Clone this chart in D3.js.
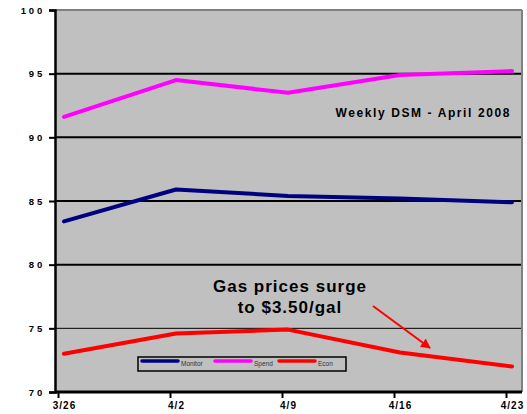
<!DOCTYPE html>
<html>
<head>
<meta charset="utf-8">
<script src="https://cdn.jsdelivr.net/npm/d3@7"></script>
<style>
  body { margin: 0; background: #fff; }
  svg { display: block; font-family: Arial, "Liberation Sans", sans-serif; }
</style>
</head>
<body>
<svg width="527" height="414"></svg>
<script>
// data
const weeks = ["3/26", "4/2", "4/9", "4/16", "4/23"];
const monitor = [83.4, 85.9, 85.4, 85.2, 84.9];
const spend = [91.6, 94.5, 93.5, 94.9, 95.2];
const econ = [73.0, 74.6, 74.9, 73.1, 72.0];
const yTicks = [70, 75, 80, 85, 90, 95, 100];
const seriesNames = ["Monitor", "Spend", "Econ"];
const seriesColors = ["#000080", "#ff00ff", "#ff0000"];

const svg = d3.select("svg");
const plotL = 55, plotR = 522, plotT = 10, plotB = 392;

const x = d3.scalePoint().domain(weeks).range([64, 512]);
const y = d3.scaleLinear().domain([70, 100]).range([plotB, plotT]);

// plot background
svg.append("rect")
  .attr("x", plotL).attr("y", plotT)
  .attr("width", plotR - plotL).attr("height", plotB - plotT)
  .attr("fill", "#c0c0c0");

// gridlines
svg.selectAll("line.grid")
  .data(yTicks.filter(d => d > 70 && d < 100))
  .enter().append("line")
  .attr("class", "grid")
  .attr("x1", plotL).attr("x2", plotR)
  .attr("y1", d => y(d)).attr("y2", d => y(d))
  .attr("stroke", "#000")
  .attr("stroke-width", d => d === 75 ? 1 : 2);

// top / right border
svg.append("line").attr("x1", plotL).attr("x2", plotR).attr("y1", plotT).attr("y2", plotT)
  .attr("stroke", "#808080").attr("stroke-width", 2);
svg.append("line").attr("x1", plotR).attr("x2", plotR).attr("y1", plotT).attr("y2", plotB)
  .attr("stroke", "#808080").attr("stroke-width", 2);

// y axis
const yAxis = svg.append("g")
  .attr("transform", `translate(${plotL},0)`)
  .call(d3.axisLeft(y).tickValues(yTicks).tickSize(6).tickPadding(4));
yAxis.select(".domain").attr("stroke", "#000").attr("stroke-width", 2.5);
yAxis.selectAll(".tick line").attr("stroke", "#000").attr("stroke-width", 2);
yAxis.selectAll(".tick text")
  .attr("font-size", 9.5).attr("font-weight", "bold")
  .attr("letter-spacing", "2.8px").attr("fill", "#000")
  .attr("font-family", "Arial, 'Liberation Sans', sans-serif");

// x axis
const xAxis = svg.append("g")
  .attr("transform", `translate(0,${plotB})`)
  .call(d3.axisBottom(x).tickSize(6).tickPadding(4));
xAxis.select(".domain").attr("d", `M${plotL},0H${plotR}`)
  .attr("stroke", "#000").attr("stroke-width", 3);
xAxis.selectAll(".tick line").attr("x1", -6).attr("x2", -6)
  .attr("stroke", "#000").attr("stroke-width", 2);
xAxis.selectAll(".tick text")
  .attr("font-size", 10).attr("font-weight", "bold")
  .attr("letter-spacing", "1px").attr("fill", "#000")
  .attr("font-family", "Arial, 'Liberation Sans', sans-serif");

// lines
const line = d3.line().x((d, i) => x(weeks[i])).y(d => y(d));
[monitor, spend, econ].forEach((s, i) => {
  svg.append("path")
    .datum(s)
    .attr("d", line)
    .attr("fill", "none")
    .attr("stroke", seriesColors[i])
    .attr("stroke-width", 4)
    .attr("stroke-linejoin", "round")
    .attr("stroke-linecap", "round");
});

// subtitle
svg.append("text")
  .attr("x", 511).attr("y", 117)
  .attr("text-anchor", "end")
  .attr("font-size", 12).attr("font-weight", "bold")
  .attr("letter-spacing", "1.6px")
  .text("Weekly DSM - April 2008");

// annotation
const ann = svg.append("text")
  .attr("text-anchor", "middle")
  .attr("font-size", 17).attr("font-weight", "bold")
  .attr("letter-spacing", "1px");
ann.append("tspan").attr("x", 290).attr("y", 292).text("Gas prices surge");
ann.append("tspan").attr("x", 290).attr("y", 313).text("to $3.50/gal");

svg.append("defs").append("marker")
  .attr("id", "arrow")
  .attr("viewBox", "0 0 10 10")
  .attr("refX", 9).attr("refY", 5)
  .attr("markerWidth", 5).attr("markerHeight", 5)
  .attr("markerUnits", "strokeWidth")
  .attr("orient", "auto")
  .append("path").attr("d", "M0,0L10,5L0,10z").attr("fill", "#ff0000");

svg.append("line")
  .attr("x1", 373).attr("y1", 306)
  .attr("x2", 430).attr("y2", 348)
  .attr("stroke", "#ff0000").attr("stroke-width", 2)
  .attr("marker-end", "url(#arrow)");

// legend
const legend = svg.append("g");
legend.append("rect")
  .attr("x", 138).attr("y", 357).attr("width", 208).attr("height", 14)
  .attr("fill", "none").attr("stroke", "#000").attr("stroke-width", 1.5);
const legX = [142, 215, 279];
seriesNames.forEach((name, i) => {
  legend.append("line")
    .attr("x1", legX[i]).attr("x2", legX[i] + 36)
    .attr("y1", 361).attr("y2", 361)
    .attr("stroke", seriesColors[i]).attr("stroke-width", 3.5)
    .attr("stroke-linecap", "round");
  legend.append("text")
    .attr("x", legX[i] + 39).attr("y", 366)
    .attr("font-size", 6.5).attr("fill", "#333")
    .text(name);
});
</script>
</body>
</html>
